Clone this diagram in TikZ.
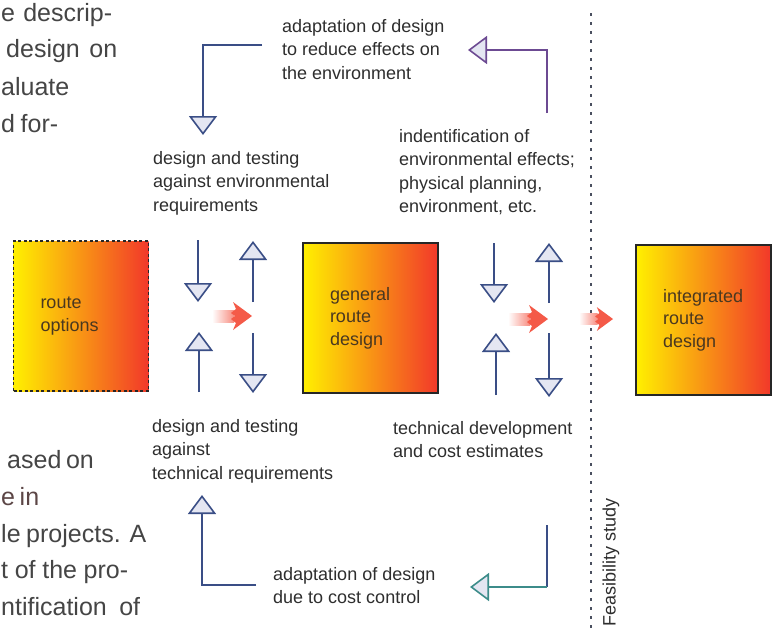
\documentclass[tikz,border=0pt]{standalone}
\usepackage{fontspec}
\setmainfont{Liberation Sans}
\usetikzlibrary{arrows.meta}
\definecolor{lbl}{HTML}{2E2E2E}
\definecolor{bodyc}{HTML}{454545}
\definecolor{bodyred}{HTML}{5C4646}
\definecolor{arrowblue}{HTML}{3A4E86}
\definecolor{arrowpurple}{HTML}{6C4A92}
\definecolor{arrowteal}{HTML}{3C8C8A}
\definecolor{trifill}{HTML}{E4E6F2}
\definecolor{boxyellow}{HTML}{FFF000}
\definecolor{boxorange}{HTML}{FFB010}
\definecolor{boxred}{HTML}{F2382A}
\definecolor{boxtext}{HTML}{4A3820}
\definecolor{redarrow}{HTML}{F45A48}
\definecolor{dotc}{HTML}{4A5060}
\tikzset{
  lbltext/.style={anchor=north west, inner sep=0pt, align=left, text=lbl,
    font=\fontsize{18}{23.5}\selectfont},
  bodytext/.style={anchor=base west, inner sep=0pt, text=bodyc,
    font=\fontsize{25}{28}\selectfont},
  routebox/.style={minimum width=133pt, minimum height=150pt, inner xsep=27pt,
    text width=81pt, align=left, text=boxtext,
    font=\fontsize{18}{22.5}\selectfont,
    left color=boxyellow, middle color=boxorange, right color=boxred,
    draw=black!85, line width=1.4pt},
  flow/.style={draw=arrowblue, line width=1.6pt,
    -{Triangle[width=28pt,length=19pt,fill=trifill]}},
  plainline/.style={draw=arrowblue, line width=1.6pt},
}
\newcommand{\redarr}[3]{% tip x, tip y, scale
  \shade[left color=white, right color=redarrow!70, draw=none]
    ({#1-40*#3},{#2-6*#3}) rectangle ({#1-18*#3},{#2+6*#3});
  \fill[redarrow] (#1,#2) -- ({#1-19*#3},{#2-14*#3}) -- ({#1-16*#3},{#2-7*#3})
    -- ({#1-21*#3},{#2-3*#3}) -- ({#1-17*#3},{#2}) -- ({#1-21*#3},{#2+3*#3})
    -- ({#1-16*#3},{#2+7*#3}) -- ({#1-19*#3},{#2+14*#3}) -- cycle;
}
\begin{document}
\begin{tikzpicture}[x=1pt,y=-1pt]
\fill[white] (0,0) rectangle (778,630);
\clip (0,0) rectangle (778,630);

% body text fragments
\node[bodytext] (b1) at (1,21) {\makebox[111pt][s]{e descrip-}};
\node[bodytext] (b2) at (6,57) {\makebox[111pt][s]{design on}};
\node[bodytext] (b3) at (1,95) {aluate};
\node[bodytext] (b4) at (1,132) {\makebox[57pt][s]{d for-}};
\node[bodytext] (b5) at (7,468) {\makebox[86pt][s]{ased on}};
\node[bodytext, text=bodyred] (b6) at (1,505) {\makebox[36pt][s]{e in}};
\node[bodytext] (b7) at (1,542) {\makebox[145pt][s]{le projects. A}};
\node[bodytext] (b8) at (1,578) {\makebox[127pt][s]{t of the pro-}};
\node[bodytext] (b9) at (1,615) {\makebox[139pt][s]{ntification of}};

% dotted divider
\coordinate (dtop) at (591,13);
\coordinate (dbot) at (591,632);
\draw[dotc, line width=2.8pt, dash pattern=on 2.8pt off 6.2pt] (dtop) -- (dbot);
\node[rotate=90, inner sep=0pt, text=lbl, font=\fontsize{18}{20}\selectfont]
  (feas) at (611,562) {Feasibility study};

% boxes
\node[routebox, dashed, dash pattern=on 3pt off 2.5pt, line width=1.2pt] (ro) at (81,316) {route\\options};
\node[routebox] (grd) at (370.5,318) {general\\route\\design};
\node[routebox] (ird) at (703.5,320) {integrated\\route\\design};

% labels
\node[lbltext] (l1) at (282,19) {adaptation of design\\to reduce effects on\\the environment};
\node[lbltext] (l2) at (153,151) {design and testing\\against environmental\\requirements};
\node[lbltext] (l3) at (399,129) {indentification of\\environmental effects;\\physical planning,\\environment, etc.};
\node[lbltext] (l4) at (152,419) {design and testing\\against\\technical requirements};
\node[lbltext] (l5) at (393,421) {technical development\\and cost estimates};
\node[lbltext] (l6) at (273,567) {adaptation of design\\due to cost control};

% outer feedback connectors
\coordinate (tl0) at (262,45); \coordinate (tlc) at (203,45); \coordinate (tl1) at (203,135);
\draw[flow] (tl0) -- (tlc) -- (tl1);
\coordinate (tr0) at (547,113); \coordinate (trc) at (547,50); \coordinate (tr1) at (468,50);
\draw[flow, draw=arrowpurple] (tr0) -- (trc) -- (tr1);
\coordinate (bl0) at (256,585); \coordinate (blc) at (202,585); \coordinate (bl1) at (202,495);
\draw[flow] (bl0) -- (blc) -- (bl1);
\coordinate (br0) at (547,525); \coordinate (brc) at (547,587); \coordinate (br1) at (470,587);
\draw[plainline] (br0) -- (brc);
\draw[flow, draw=arrowteal] (brc) -- (br1);

% inner vertical arrows, left group
\coordinate (a1s) at (198,240); \coordinate (a1e) at (198,302);
\coordinate (a2s) at (199,392); \coordinate (a2e) at (199,332);
\coordinate (a3s) at (253,302); \coordinate (a3e) at (253,241);
\coordinate (a4s) at (253,333); \coordinate (a4e) at (253,393);
\draw[flow] (a1s) -- (a1e);
\draw[flow] (a2s) -- (a2e);
\draw[flow] (a3s) -- (a3e);
\draw[flow] (a4s) -- (a4e);
% right group
\coordinate (c1s) at (494,243); \coordinate (c1e) at (494,303);
\coordinate (c2s) at (496,395); \coordinate (c2e) at (496,333);
\coordinate (c3s) at (549,303); \coordinate (c3e) at (549,243);
\coordinate (c4s) at (549,333); \coordinate (c4e) at (549,397);
\draw[flow] (c1s) -- (c1e);
\draw[flow] (c2s) -- (c2e);
\draw[flow] (c3s) -- (c3e);
\draw[flow] (c4s) -- (c4e);

% red progress arrows
\redarr{252}{316}{1}
\redarr{548}{319}{1}
\redarr{613}{319}{0.85}
\end{tikzpicture}
\end{document}
